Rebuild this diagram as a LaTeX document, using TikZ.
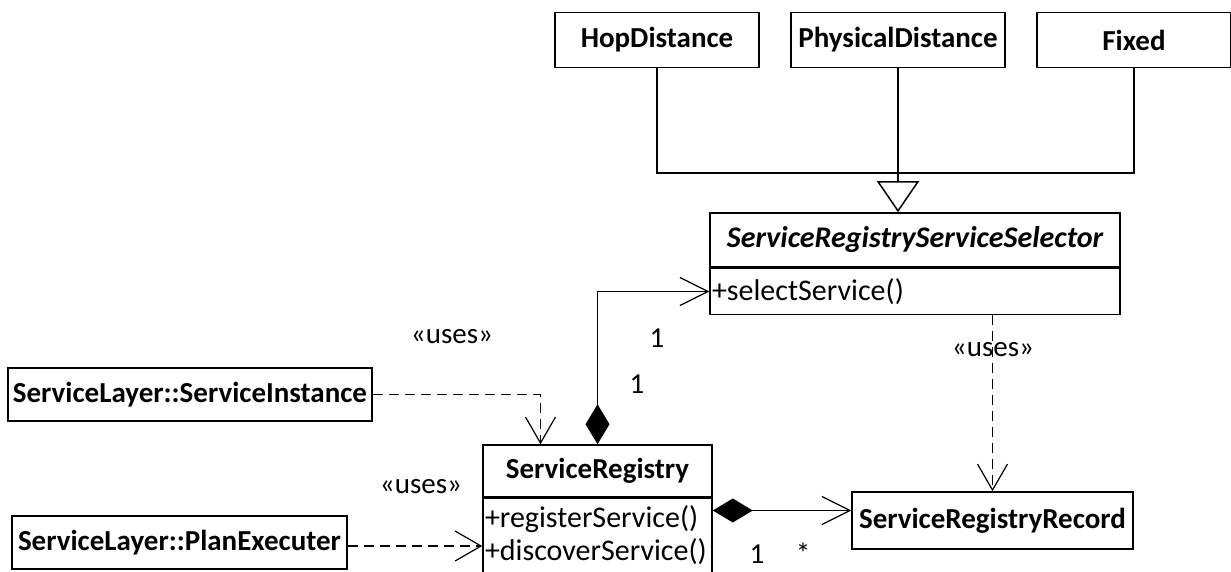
\documentclass[tikz,border=0pt]{standalone}
\usepackage{fontspec}
\setmainfont{Carlito}
\usetikzlibrary{arrows.meta,calc}
\begin{document}
\begin{tikzpicture}[x=1pt,y=-1pt,
  line width=1.5pt,
  box/.style={draw, line width=1.5pt, inner sep=0pt, font=\fontsize{29}{34}\selectfont\bfseries},
  comp/.style={draw, line width=1.5pt, inner sep=0pt},
  member/.style={inner sep=0pt, anchor=west, font=\fontsize{30}{34}\selectfont},
  lbl/.style={inner sep=0pt, font=\fontsize{29}{34}\selectfont},
  dep/.style={line width=1.6pt, dash pattern=on 10pt off 6pt, -{Straight Barb[length=26pt,width=30pt,line width=1.2pt]}},
  owner/.style={line width=1.6pt, {Diamond[fill=black,length=40pt,width=24pt]}-{Straight Barb[length=28pt,width=28pt,line width=1.2pt]}},
  gen/.style={-{Triangle[open,length=31pt,width=42pt,line width=1.5pt]}}
]
\useasboundingbox (0,0) rectangle (1231,572);
\begin{scope}
\clip (0,0) rectangle (1231,572);

% strategy classes
\node[box, minimum width=204, minimum height=55] (hop)   at (657,40) {HopDistance};
\node[box, minimum width=214, minimum height=55] (phys)  at (898,40) {PhysicalDistance};
\node[box, minimum width=194, minimum height=55] (fixed) at (1134,40) {Fixed};

% abstract selector
\node[box, minimum width=410, minimum height=54, font=\fontsize{30}{34}\selectfont\bfseries\itshape] (sel) at (915,240) {ServiceRegistryServiceSelector};
\node[comp, minimum width=410, minimum height=46, anchor=north] (selm) at (sel.south) {};
\node[member] (selop) at ([xshift=2pt]selm.west) {+selectService()};

% registry
\node[box, minimum width=229, minimum height=52] (reg) at (597.5,471) {ServiceRegistry};
\node[comp, minimum width=229, minimum height=110, anchor=north] (regm) at (reg.south) {};
\node[member] (regop1) at ([xshift=2pt]regm.west |- 0,519) {+registerService()};
\node[member] (regop2) at ([xshift=2pt]regm.west |- 0,552) {+discoverService()};

\node[box, minimum width=281, minimum height=57] (rec) at (992.5,520.5) {ServiceRegistryRecord};
\node[box, minimum width=364, minimum height=53] (si) at (190,394.5) {ServiceLayer::ServiceInstance};
\node[box, minimum width=335, minimum height=53] (pe) at (179.5,542.5) {ServiceLayer::PlanExecuter};

% generalization
\coordinate (gj) at (900,173);
\draw (hop.south) |- (gj) -| (fixed.south);
\draw[gen] (phys.south) -- (phys.south |- sel.north);

% compositions
\draw[owner] (reg.north) |- (selm.west);
\draw[owner] ([yshift=10pt]rec.west -| regm.east) -- ([yshift=10pt]rec.west);

% dependencies
\draw[dep] (si.east) -| ([xshift=-57pt]reg.north);
\draw[dep] (pe.east |- 0,546) -- (regm.west |- 0,546);
\draw[dep] (rec.north |- selm.south) -- (rec.north);

% labels
\node[lbl] (u1) at (452,337) {«uses»};
\node[lbl] (u2) at (421,487) {«uses»};
\node[lbl] (u3) at (993,350) {«uses»};
\node[lbl] (m1) at (657,338) {1};
\node[lbl] (m2) at (637,384) {1};
\node[lbl] (m3) at (757,554) {1};
\node[lbl] (m4) at (803,553) {*};
\end{scope}
\end{tikzpicture}
\end{document}
